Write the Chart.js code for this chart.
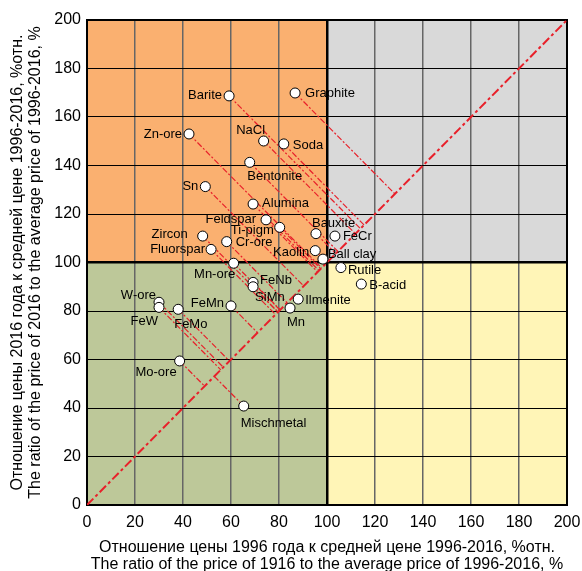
<!DOCTYPE html>
<html>
<head>
<meta charset="utf-8">
<script src="https://cdn.jsdelivr.net/npm/chart.js@4/dist/chart.umd.min.js"></script>
<style>
  html, body { margin: 0; padding: 0; background: #fff; }
  #wrap { width: 582px; height: 571px; }
</style>
</head>
<body>
<div id="wrap"><canvas id="chart" width="582" height="571"></canvas></div>
<script>
// commodities: 1996 price ratio (x) vs 2016 price ratio (y), % of 1996-2016 average
const names = ['Graphite', 'Barite', 'Zn-ore', 'NaCl', 'Soda', 'Bentonite', 'Sn', 'Alumina',
  'Feldspar', 'Ti-pigm', 'Bauxite', 'FeCr', 'Zircon', 'Cr-ore', 'Fluorspar', 'Kaolin',
  'Ball clay', 'Mn-ore', 'Rutile', 'B-acid', 'FeNb', 'SiMn', 'Ilmenite', 'Mn', 'FeMn',
  'W-ore', 'FeW', 'FeMo', 'Mo-ore', 'Mischmetal'];
const x1996 = [86.7, 59.2, 42.5, 73.6, 82.0, 67.8, 49.3, 69.2,
  74.6, 80.3, 95.4, 103.3, 48.2, 58.2, 51.7, 95.1,
  98.3, 61.1, 105.8, 114.3, 69.2, 69.2, 88.0, 84.6, 60.0,
  30.0, 30.0, 38.0, 38.6, 65.3];
const y2016 = [169.9, 168.7, 153.0, 150.1, 148.9, 141.3, 131.3, 124.1,
  117.6, 114.5, 111.9, 110.9, 110.9, 108.6, 105.4, 104.9,
  101.4, 99.7, 97.9, 91.1, 91.8, 90.0, 84.9, 81.2, 82.1,
  83.6, 81.5, 80.7, 59.4, 40.8];
const ticks = [0, 20, 40, 60, 80, 100, 120, 140, 160, 180, 200];

// label placement: [dx, dy, align] relative to the marker, in px
const labelPlace = {
  'Graphite': [10, 0, 'left'], 'Barite': [-7, 0, 'right'], 'Zn-ore': [-7, 0, 'right'],
  'NaCl': [-13, -11, 'center'], 'Soda': [9, 2, 'left'], 'Bentonite': [25, 14, 'center'],
  'Sn': [-7, 0, 'right'], 'Alumina': [9, -1, 'left'], 'Feldspar': [-10, 0, 'right'],
  'Ti-pigm': [-6, 3, 'right'], 'Bauxite': [-4, -10, 'left'], 'FeCr': [8, 0, 'left'],
  'Zircon': [-15, -2, 'right'], 'Cr-ore': [9, 1, 'left'], 'Fluorspar': [-6, 0, 'right'],
  'Kaolin': [-6, 2, 'right'], 'Ball clay': [5, -5, 'left'], 'Mn-ore': [-19, 11, 'center'],
  'Rutile': [7, 3, 'left'], 'B-acid': [8, 1, 'left'], 'FeNb': [7, -2, 'left'],
  'SiMn': [2, 11, 'left'], 'Ilmenite': [7, 1, 'left'], 'Mn': [6, 14, 'center'],
  'FeMn': [-7, -2, 'right'], 'W-ore': [-3, -7, 'right'], 'FeW': [-1, 14, 'right'],
  'FeMo': [-4, 15, 'left'], 'Mo-ore': [-3, 11, 'right'], 'Mischmetal': [-3, 17, 'left']
};

const RED = '#e8202a';
const FONT = "'Liberation Sans', Arial, sans-serif";

const points = names.map((n, i) => ({ x: x1996[i], y: y2016[i] }));

// perpendicular drop from each point onto the y = x line
const dropLines = points
  .filter(p => p.x < 100)
  .map(p => {
    const m = (p.x + p.y) / 2;
    return {
      type: 'line',
      data: [p, { x: m, y: m }],
      borderColor: RED,
      borderWidth: 1.2,
      borderDash: [6, 2, 2, 2],
      pointRadius: 0,
      fill: false
    };
  });

const quadrants = {
  id: 'quadrants',
  beforeDraw(chart) {
    const { ctx, scales: { x, y } } = chart;
    const x0 = x.getPixelForValue(0), x1 = x.getPixelForValue(100), x2 = x.getPixelForValue(200);
    const y0 = y.getPixelForValue(0), y1 = y.getPixelForValue(100), y2 = y.getPixelForValue(200);
    ctx.save();
    ctx.fillStyle = '#fab070'; ctx.fillRect(x0, y2, x1 - x0, y1 - y2);
    ctx.fillStyle = '#d9d9d9'; ctx.fillRect(x1, y2, x2 - x1, y1 - y2);
    ctx.fillStyle = '#bdc899'; ctx.fillRect(x0, y1, x1 - x0, y0 - y1);
    ctx.fillStyle = '#fff5b7'; ctx.fillRect(x1, y1, x2 - x1, y0 - y1);
    ctx.restore();
  },
  beforeDatasetsDraw(chart) {
    const { ctx, chartArea: a } = chart;
    ctx.save();
    ctx.strokeStyle = '#000';
    ctx.lineWidth = 2;
    ctx.strokeRect(a.left, a.top, a.right - a.left, a.bottom - a.top);
    ctx.restore();
  }
};

const labels = {
  id: 'labels',
  afterDatasetsDraw(chart) {
    const { ctx } = chart;
    const meta = chart.getDatasetMeta(0);
    ctx.save();
    ctx.font = '13px ' + FONT;
    ctx.fillStyle = '#000';
    ctx.textBaseline = 'middle';
    meta.data.forEach((el, i) => {
      const pl = labelPlace[names[i]] || [8, 0, 'left'];
      ctx.textAlign = pl[2];
      ctx.fillText(names[i], el.x + pl[0], el.y + pl[1]);
    });
    ctx.restore();
  }
};

new Chart(document.getElementById('chart'), {
  type: 'scatter',
  data: {
    datasets: [
      {
        data: points,
        backgroundColor: '#fff',
        borderColor: '#000',
        borderWidth: 1,
        pointRadius: 5,
        pointHoverRadius: 5
      },
      {
        type: 'line',
        data: [{ x: 0, y: 0 }, { x: 200, y: 200 }],
        borderColor: RED,
        borderWidth: 2,
        borderDash: [9, 3, 3, 3],
        pointRadius: 0,
        fill: false
      },
      ...dropLines
    ]
  },
  options: {
    responsive: false,
    animation: false,
    events: [],
    layout: { padding: { top: 20, right: 15, left: 0, bottom: 0 } },
    plugins: { legend: { display: false }, tooltip: { enabled: false } },
    scales: {
      x: {
        type: 'linear',
        min: 0, max: 200,
        afterBuildTicks: s => { s.ticks = ticks.map(v => ({ value: v })); },
        afterFit: s => { s.height = 66; s.paddingLeft = 0; s.paddingRight = 0; },
        border: { display: false },
        grid: {
          drawTicks: false,
          color: c => c.tick && c.tick.value === 100 ? '#000' : '#666',
          lineWidth: c => c.tick && c.tick.value === 100 ? 2.5 : 1.5
        },
        ticks: { padding: 8, color: '#000', font: { size: 16, family: FONT }, maxRotation: 0 },
        title: {
          display: true,
          text: ['Отношение цены 1996 года к средней цене 1996-2016, %отн.',
                 'The ratio of the price of 1916 to the average price of 1996-2016, %'],
          color: '#000',
          font: { size: 16, family: FONT, lineHeight: '17px' },
          padding: { top: 0, bottom: -2 }
        }
      },
      y: {
        type: 'linear',
        min: 0, max: 200,
        afterBuildTicks: s => { s.ticks = ticks.map(v => ({ value: v })); },
        afterFit: s => { s.width = 87; s.paddingTop = 0; s.paddingBottom = 0; },
        border: { display: false },
        grid: {
          drawTicks: false,
          color: '#000',
          lineWidth: c => c.tick && c.tick.value === 100 ? 2.5 : 1
        },
        ticks: { padding: 6, color: '#000', font: { size: 16, family: FONT } },
        title: {
          display: true,
          text: ['Отношение цены 2016 года к средней цене 1996-2016, %отн.',
                 'The ratio of the price of 2016 to the average price of 1996-2016, %'],
          color: '#000',
          font: { size: 16, family: FONT, lineHeight: '18px' },
          padding: { top: 9, bottom: 0 }
        }
      }
    }
  },
  plugins: [quadrants, labels]
});
</script>
</body>
</html>
